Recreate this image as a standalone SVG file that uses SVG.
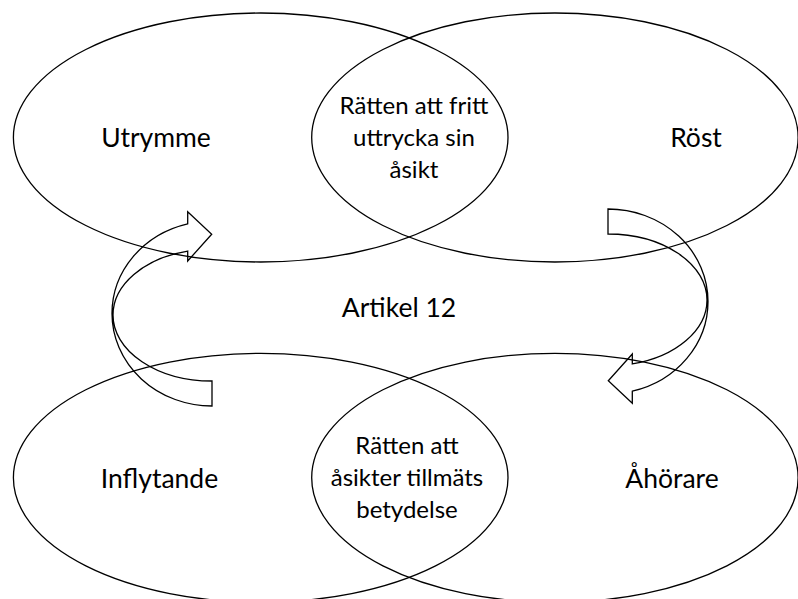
<svg xmlns="http://www.w3.org/2000/svg" width="798" height="599" viewBox="0 0 798 599">
<style>
.sh{fill:none;stroke:#000;stroke-width:1.3}
.lb{font-family:Lato,"Liberation Sans",sans-serif;font-size:26.5px;fill:#000;text-anchor:middle}
.ln{font-family:Lato,"Liberation Sans",sans-serif;font-size:24px;fill:#000;text-anchor:middle}
</style>
<defs>
<path id="carrow" d="M212,381 A99,66 0 0 1 113,315 A99,66 0 0 1 187.7,251.02 L187.7,261 L211.7,234.3 L187.7,211.7 L187.7,223.77 A100,92.5 0 0 0 112,313.5 A100,92.5 0 0 0 212,406 Z"/>
</defs>
<g id="utrymme">
<ellipse class="sh" cx="260.7" cy="137.5" rx="247.3" ry="124.5"/>
<text class="lb" x="156" y="147.3">Utrymme</text>
</g>
<g id="rost">
<ellipse class="sh" cx="554.9" cy="137.5" rx="243.2" ry="124.5"/>
<text class="lb" x="696" y="147.3">Röst</text>
</g>
<g id="inflytande">
<ellipse class="sh" cx="260.7" cy="477.8" rx="247.3" ry="124.5"/>
<text class="lb" x="159.5" y="487.5">Inflytande</text>
</g>
<g id="ahorare">
<ellipse class="sh" cx="554.9" cy="477.8" rx="243.2" ry="124.5"/>
<text class="lb" x="672" y="487.5">Åhörare</text>
</g>
<g id="lens-top">
<text class="ln" x="414" y="114"><tspan x="414" y="114">Rätten att fritt</tspan><tspan x="414" y="146">uttrycka sin</tspan><tspan x="414" y="178.3">åsikt</tspan></text>
</g>
<g id="lens-bottom">
<text class="ln" x="407" y="454"><tspan x="407" y="454">Rätten att</tspan><tspan x="407" y="485.7">åsikter tillmäts</tspan><tspan x="407" y="517.5">betydelse</tspan></text>
</g>
<g id="center">
<text class="lb" x="399" y="317.3">Artikel 12</text>
</g>
<g id="connectors">
<use href="#carrow" class="sh"/>
<use href="#carrow" class="sh" transform="rotate(180 410 307.5)"/>
</g>
</svg>
